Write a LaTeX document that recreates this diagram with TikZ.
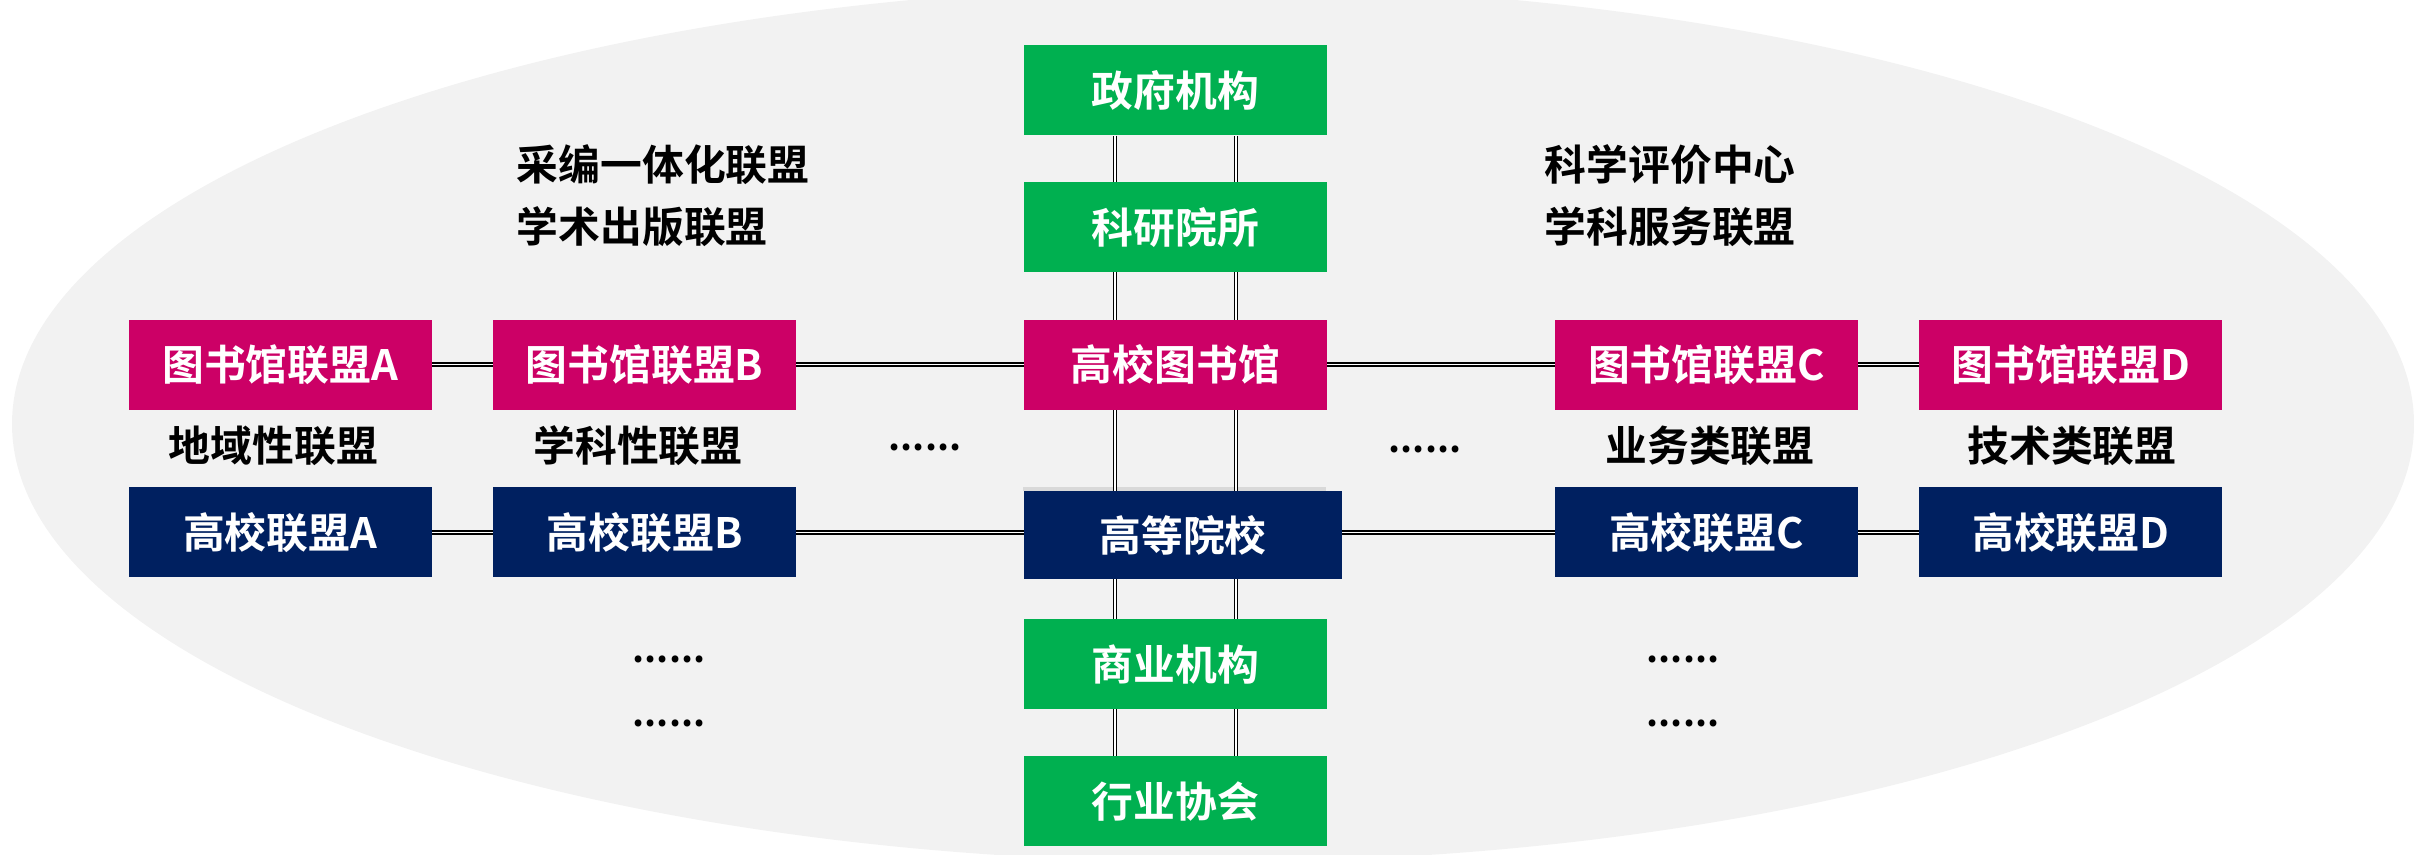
\documentclass[tikz,border=0pt]{standalone}
\usepackage{fontspec}
\setmainfont{Noto Sans CJK SC}[BoldFont={Noto Sans CJK SC Bold}]
\usetikzlibrary{positioning,backgrounds}
\definecolor{libred}{HTML}{CC0066}
\definecolor{uninavy}{HTML}{002060}
\definecolor{orggreen}{HTML}{00B050}
\definecolor{ovalgray}{HTML}{F2F2F2}
\begin{document}
\begin{tikzpicture}[
      node distance=0.46cm,
      every node/.style={font=\bfseries\fontsize{11.9}{14}\selectfont, inner sep=0pt},
      box/.style={minimum width=3.03cm, minimum height=0.9cm, text=white},
      libbox/.style={box, fill=libred},
      unibox/.style={box, fill=uninavy},
      orgbox/.style={box, fill=orggreen},
      tag/.style={text=black},
      more/.style={tag, anchor=base, font=\bfseries\fontsize{10.6}{12}\selectfont},
      link/.style={draw=black, line width=0.5pt, double=white, double distance=0.35pt}
    ]
    \useasboundingbox (0,0) rectangle (24.14,-8.55);

    \node[orgbox] (gov) at (11.755,-0.90) {政府机构};
    \node[orgbox, below=of gov] (inst) {科研院所};
    \node[libbox, below=of inst] (unilib) {高校图书馆};
    \node[unibox, minimum width=3.18cm, minimum height=0.88cm, anchor=north west] (uni) at ([yshift=-8mm]unilib.south west) {高等院校};
    \node[orgbox] (biz) at (11.755,-6.64) {商业机构};
    \node[orgbox, below=of biz] (assoc) {行业协会};

    \node[libbox, left=2.265cm of unilib] (libB) {图书馆联盟B};
    \node[libbox, left=0.6cm of libB] (libA) {图书馆联盟A};
    \node[libbox, right=2.265cm of unilib] (libC) {图书馆联盟C};
    \node[libbox, right=0.6cm of libC] (libD) {图书馆联盟D};

    \node[unibox, below=0.76cm of libA] (uniA) {高校联盟A};
    \node[unibox, below=0.76cm of libB] (uniB) {高校联盟B};
    \node[unibox, below=0.76cm of libC] (uniC) {高校联盟C};
    \node[unibox, below=0.76cm of libD] (uniD) {高校联盟D};

    \node[tag] (regional) at (2.735,-4.46) {地域性联盟};
    \node[tag] (subject) at (6.38,-4.46) {学科性联盟};
    \node[tag] (business) at (17.10,-4.46) {业务类联盟};
    \node[tag] (technical) at (20.72,-4.46) {技术类联盟};

    \node[tag, anchor=west] (catalog) at (5.16,-1.645) {采编一体化联盟};
    \node[tag, anchor=west] (publish) at (5.16,-2.27) {学术出版联盟};
    \node[tag, anchor=west] (evaluate) at (15.44,-1.645) {科学评价中心};
    \node[tag, anchor=west] (service) at (15.44,-2.27) {学科服务联盟};

    \node[more] (dotsL) at (9.25,-4.50) {......};
    \node[more] (dotsR) at (14.25,-4.52) {......};
    \node[more] (dotsLa) at (6.69,-6.62) {......};
    \node[more] (dotsLb) at (6.69,-7.26) {......};
    \node[more] (dotsRa) at (16.83,-6.62) {......};
    \node[more] (dotsRb) at (16.83,-7.26) {......};

    \begin{scope}[on background layer]
      \fill[ovalgray] (12.13,-4.24) ellipse [x radius=12.01cm, y radius=4.38cm];
      \fill[black!15] (uni.north west) rectangle ++(3.03,0.04);
      \draw[link] ([xshift=-6.05mm]gov.south) -- ([xshift=-6.05mm]assoc.north);
      \draw[link] ([xshift=6.05mm]gov.south) -- ([xshift=6.05mm]assoc.north);
      \draw[link] (libA) -- (libD);
      \draw[link] (uniA) -- (uniD);
    \end{scope}

    \end{tikzpicture}
\end{document}
